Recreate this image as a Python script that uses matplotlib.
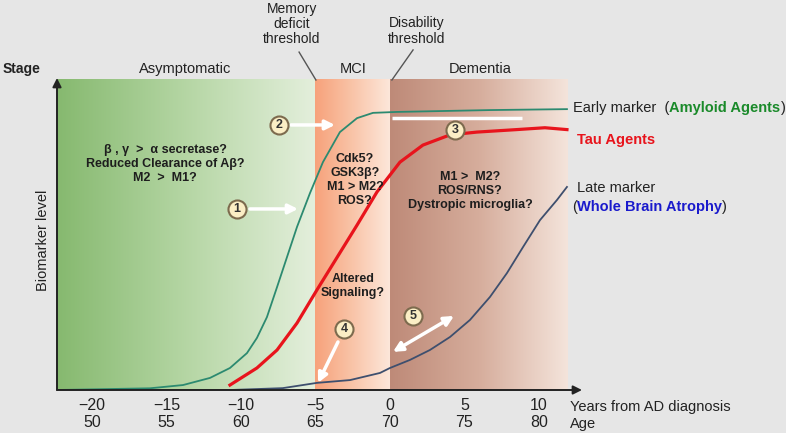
import numpy as np
import matplotlib
matplotlib.use("Agg")
import matplotlib.pyplot as plt
from matplotlib.colors import LinearSegmentedColormap

plt.rcParams['font.family'] = ['Liberation Sans', 'DejaVu Sans']

# years from AD diagnosis / biomarker level (0 = baseline, 1 = top of chart)
early_years = [-22.35, -16.11, -13.89, -12.08, -10.74, -9.60, -8.93, -8.26, -7.58,
               -6.91, -6.24, -5.37, -4.50, -3.36, -2.21, -1.14, 0.47, 6.71, 11.88]
early_level = [0.0, 0.0055, 0.016, 0.039, 0.071, 0.119, 0.168, 0.235, 0.332,
               0.429, 0.526, 0.635, 0.735, 0.832, 0.877, 0.894, 0.897, 0.903, 0.906]

tau_years = [-10.74, -8.93, -7.58, -6.24, -4.90, -2.21, -0.87, 0.67, 2.21,
             4.03, 5.84, 8.5, 10.4, 11.88]
tau_level = [0.016, 0.071, 0.129, 0.216, 0.323, 0.532, 0.639, 0.735, 0.79,
             0.823, 0.832, 0.84, 0.846, 0.84]

late_years = [-22.35, -10.7, -7.2, -4.9, -2.68, -0.67, 0.0, 1.34, 2.68, 4.03,
              5.37, 6.71, 7.85, 8.93, 10.07, 11.21, 11.88]
late_level = [0.0, 0.0, 0.006, 0.023, 0.032, 0.055, 0.071, 0.097, 0.129, 0.171,
              0.226, 0.30, 0.377, 0.461, 0.548, 0.613, 0.655]

tick_years = [-20, -15, -10, -5, 0, 5, 10]
tick_ages = [50, 55, 60, 65, 70, 75, 80]

stage_names = ['Asymptomatic', 'MCI', 'Dementia']
stage_bounds = [-22.35, -5, 0, 11.9]

W, H = 786, 433


def fx(p):
    return p / W


def fy(p):
    return 1 - p / H


fig = plt.figure(figsize=(W / 100, H / 100), dpi=100, facecolor='#e6e6e6')
ax = fig.add_axes([fx(57), fy(390), (582 - 57) / W, (390 - 78) / H])
ax.set_facecolor('none')
xmin, xmax = -22.35, 12.89

# stage bands as horizontal gradients
band_colors = [['#86b96f', '#b5d6a4', '#e4efdc'],
               ['#f7a27b', '#f9c4a8', '#fde7da'],
               ['#be8a78', '#d6ad9c', '#f4e4db']]
grad = np.linspace(0, 1, 256).reshape(1, -1)
for i in range(3):
    cmap = LinearSegmentedColormap.from_list('band%d' % i, band_colors[i])
    ax.imshow(grad, cmap=cmap, aspect='auto', interpolation='bicubic',
              extent=[stage_bounds[i], stage_bounds[i + 1], 0, 1.0], zorder=0)
ax.set_xlim(xmin, xmax)
ax.set_ylim(0, 312 / 310)

# curves
ax.plot(early_years, early_level, color='#2c8a70', lw=1.3, zorder=3)
ax.plot(tau_years, tau_level, color='#e8141c', lw=2.3, zorder=3)
ax.plot(late_years, late_level, color='#3e4f6e', lw=1.3, zorder=3)

# white bar under the early marker plateau
ax.plot([0.13, 8.86], [0.877, 0.877], color='white', lw=2.5, zorder=2, solid_capstyle='butt')

# axes with arrow heads
for s in ax.spines.values():
    s.set_visible(False)
ax.annotate('', xy=(xmax, 0), xytext=(xmin, 0), annotation_clip=False,
            arrowprops=dict(arrowstyle='-|>', color='#222222', lw=1.4,
                            mutation_scale=13, shrinkA=0, shrinkB=0), zorder=5)
ax.annotate('', xy=(xmin, 312 / 310), xytext=(xmin, 0), annotation_clip=False,
            arrowprops=dict(arrowstyle='-|>', color='#222222', lw=1.4,
                            mutation_scale=13, shrinkA=0, shrinkB=0), zorder=5)

ax.set_yticks([])
ax.set_xticks(tick_years, ['\u2212%d' % -t if t < 0 else str(t) for t in tick_years])
ax.tick_params(axis='x', length=0, pad=5.5, labelsize=11.5, labelcolor='#222222')
sec = ax.secondary_xaxis(-0.055, functions=(lambda x: x + 70, lambda x: x - 70))
sec.set_xticks(tick_ages, [str(a) for a in tick_ages])
sec.tick_params(axis='x', length=0, pad=5.5, labelsize=11.5, labelcolor='#222222')
sec.spines['bottom'].set_visible(False)

fig.text(fx(570), fy(407), 'Years from AD diagnosis', fontsize=10.5, va='center', color='#222222')
fig.text(fx(570), fy(424), 'Age', fontsize=10.5, va='center', color='#222222')
fig.text(fx(43), fy(240), 'Biomarker level', rotation=90, fontsize=10.5,
         ha='center', va='center', color='#222222')

# stage header
fig.text(fx(3), fy(69), 'Stage', fontsize=10, fontweight='bold', va='center', color='#222222')
for name, xc in zip(stage_names, [185, 353, 480]):
    fig.text(fx(xc), fy(69), name, fontsize=10.5, ha='center', va='center', color='#222222')

fig.text(fx(292), fy(24), 'Memory\ndeficit\nthreshold', fontsize=10, ha='center',
         va='center', linespacing=1.1, color='#222222')
fig.text(fx(417), fy(31), 'Disability\nthreshold', fontsize=10, ha='center',
         va='center', linespacing=1.1, color='#222222')
ax.plot([-4.97, -6.1], [1.0, 1.09], color='#555555', lw=1, clip_on=False)
ax.plot([0.13, 1.55], [1.0, 1.097], color='#555555', lw=1, clip_on=False)

# hypotheses in each stage
bold = dict(fontsize=9, fontweight='bold', ha='center', va='center',
            color='#1e1e1e', zorder=6)
fig.text(fx(165), fy(164), '\u03b2 , \u03b3  >  \u03b1 secretase?\nReduced Clearance of A\u03b2?\nM2  >  M1?',
         linespacing=1.2, **bold)
fig.text(fx(355), fy(180), 'Cdk5?\nGSK3\u03b2?\nM1 > M2?\nROS?', linespacing=1.2, **bold)
fig.text(fx(470), fy(191), 'M1 >  M2?\nROS/RNS?\nDystropic microglia?', linespacing=1.18, **bold)
fig.text(fx(353), fy(286), 'Altered\nSignaling?', linespacing=1.15, **bold)

# numbered markers and white arrows
circle_pos = [(-10.27, 0.584), (-7.45, 0.855), (4.36, 0.839), (-3.09, 0.197), (1.54, 0.239)]
for k, (cx, cy) in enumerate(circle_pos):
    ax.plot(cx, cy, 'o', ms=13, mfc='#fbeec5', mec='#7d6b4e', mew=1.5, zorder=7)
    ax.text(cx, cy, str(k + 1), fontsize=9, fontweight='bold', ha='center',
            va='center', color='#333333', zorder=8)

wa = dict(arrowstyle='-|>', color='white', lw=2.5, mutation_scale=14, shrinkA=0, shrinkB=0)
ax.annotate('', xy=(-6.17, 0.584), xytext=(-9.4, 0.584), arrowprops=wa, zorder=6)
ax.annotate('', xy=(-3.69, 0.855), xytext=(-6.64, 0.855), arrowprops=wa, zorder=6)
ax.annotate('', xy=(-4.83, 0.023), xytext=(-3.49, 0.155), arrowprops=wa, zorder=6)
ax.annotate('', xy=(0.2, 0.123), xytext=(4.3, 0.239),
            arrowprops=dict(wa, arrowstyle='<|-|>'), zorder=6)

# right-hand labels
t1 = fig.text(fx(573), fy(108), 'Early marker  (', fontsize=10.5, va='center', color='#222222')
t2 = ax.annotate('Amyloid Agents', xy=(1, 0), xycoords=t1, va='bottom',
                 fontsize=10.5, fontweight='bold', color='#1a8a2a')
ax.annotate(')', xy=(1, 0), xycoords=t2, va='bottom', fontsize=10.5, color='#222222')
fig.text(fx(577), fy(140), 'Tau Agents', fontsize=10.5, fontweight='bold', va='center', color='#e8141c')
fig.text(fx(577), fy(188), 'Late marker', fontsize=10.5, va='center', color='#222222')
t3 = fig.text(fx(572), fy(207), '(', fontsize=10.5, va='center', color='#222222')
t4 = ax.annotate('Whole Brain Atrophy', xy=(1, 0), xycoords=t3, va='bottom',
                 fontsize=10.5, fontweight='bold', color='#1a1acc')
ax.annotate(')', xy=(1, 0), xycoords=t4, va='bottom', fontsize=10.5, color='#222222')

fig.savefig('out.png', dpi=100, facecolor=fig.get_facecolor())
